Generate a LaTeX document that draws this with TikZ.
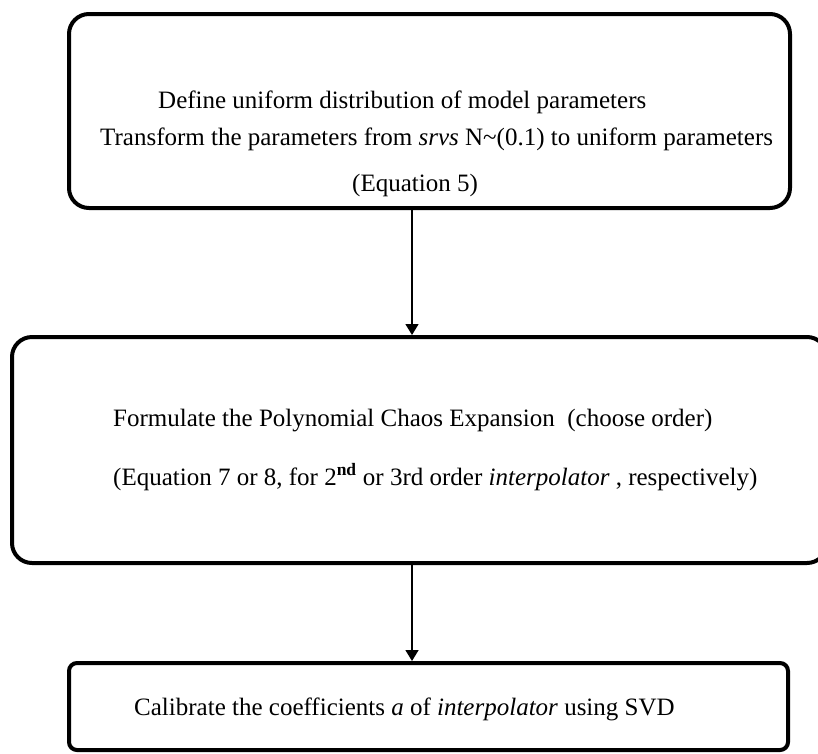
\documentclass[tikz,border=0pt]{standalone}
\usepackage{fontspec}
\setmainfont{Liberation Serif}
\usetikzlibrary{arrows.meta}

\begin{document}
\begin{tikzpicture}
[x=1pt,y=-1pt,
  boxdecorate/.style={shape=rectangle,draw,line width=4pt,inner sep=0pt},%
  textdecorate/.style={anchor=base west,inner sep=0pt,font=\fontsize{25}{30}\selectfont},%
  linedecorate/.style={line width=1.5pt,-{Triangle[width=13pt,length=11pt]}}]
\clip (0,0) rectangle (818,753);
%% boxes
\foreach \nodename/\x/\y/\w/\h/\r in {define/429.5/111/721/194/20,
  formulate/419.5/450/815/226/20, calibrate/428.5/706.5/719/87/8} {
  \node (\nodename) at (\x,\y) [boxdecorate,minimum width=\w pt,
    minimum height=\h pt,rounded corners=\r pt] {};
}
%% texts
\node (define1) at (158,108) [textdecorate] {Define uniform distribution of model parameters};
\node (define2) at (100,145) [textdecorate] {Transform the parameters from \textit{srvs} N\textasciitilde(0.1) to uniform parameters};
\node (define3) at (352,191) [textdecorate] {(Equation 5)};
\node (formulate1) at (113,426) [textdecorate] {Formulate the Polynomial Chaos Expansion\ \ (choose order)};
\node (formulate2) at (113,485) [textdecorate] {(Equation 7 or 8, for 2\textsuperscript{\textbf{nd}} or 3rd order \textit{interpolator} , respectively)};
\node (calibrate1) at (134,715) [textdecorate] {Calibrate the coefficients \textit{a} of \textit{interpolator} using SVD};
%% arrows
\coordinate (axis) at (412,0);
\path
\foreach \startnode/\endnode in {define/formulate, formulate/calibrate} {
  (\startnode.south -| axis) edge[linedecorate] (\endnode.north -| axis)
};
\end{tikzpicture}
\end{document}
